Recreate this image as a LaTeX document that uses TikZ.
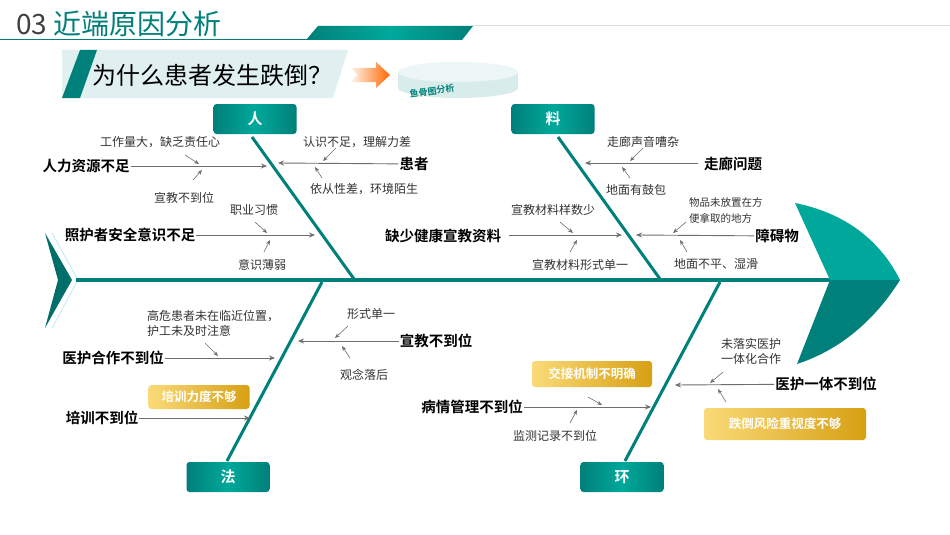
\documentclass[tikz,border=0pt]{standalone}
\usepackage{fontspec}
\setmainfont{Noto Sans CJK SC}
\newfontfamily\cjkb{Noto Sans CJK SC Bold}
\usetikzlibrary{arrows.meta}
\definecolor{teal1}{RGB}{0,128,122}
\definecolor{teal2}{RGB}{0,168,155}
\definecolor{tealdk}{RGB}{0,110,105}
\definecolor{gold1}{RGB}{250,218,120}
\definecolor{gold2}{RGB}{215,160,20}
\definecolor{arr}{RGB}{110,110,110}
\begin{document}
\begin{tikzpicture}[x=1pt,y=-1pt,
  bone/.style={teal1,line width=3pt},
  cat/.style={rounded corners=3pt,minimum width=83pt,minimum height=30pt,text=white,font=\cjkb\fontsize{15}{16}\selectfont,left color=teal1,right color=teal1,middle color=teal2,inner sep=0pt},
  big/.style={font=\cjkb\fontsize{14.5}{16}\selectfont,inner sep=1pt},
  sm/.style={font=\fontsize{12}{15}\selectfont,inner sep=1pt,text=black!80},
  gold/.style={rounded corners=3pt,left color=gold1,right color=gold2,text=white,font=\cjkb\fontsize{12.5}{14}\selectfont,inner sep=0pt},
  ar/.style={arr,line width=0.9pt,-{Stealth[length=6pt,width=5pt]}},
  sa/.style={arr,line width=0.6pt,-{Stealth[length=5pt,width=4pt]}}]
\useasboundingbox (0,0) rectangle (950,535);
\fill[white] (0,0) rectangle (950,535);
% header
\node[anchor=west,inner sep=0pt,font=\fontsize{28}{30}\selectfont] (hd) at (16,24) {\textcolor{black!75}{03} \textcolor{teal1}{近端原因分析}};
\draw[teal1,line width=1pt] (0,40) -- (320,40);
\draw[black!12,line width=1pt] (473,26) -- (950,26);
\shade[left color=teal1,right color=teal1,middle color=teal2] (318,26) -- (473,26) -- (462,40) -- (306,40) -- cycle;
% title banner
\fill[teal!12] (62,50) -- (348,50) -- (333,98) -- (62,98) -- cycle;
\fill[teal1] (80,50) -- (97,50) -- (80,98) -- (62,98) -- cycle;
\node[font=\fontsize{24}{26}\selectfont,inner sep=0pt] (ttl) at (212,75) {为什么患者发生跌倒？};
\shade[left color=orange!5,right color=orange!80!red] (350,68) -- (376,68) -- (376,62) -- (390,75) -- (376,88) -- (376,82) -- (350,82) -- (358,75) -- cycle;
\fill[teal!15] (458,88) ellipse[x radius=60,y radius=10];
\fill[teal!15] (398,72) rectangle (518,88);
\fill[teal!7] (458,72) ellipse[x radius=60,y radius=10];
\node[rotate=8,font=\cjkb\fontsize{9}{10}\selectfont,text=teal1] (yg) at (432,91) {鱼骨图分析};
% tail
\fill[tealdk] (45,233) -- (72,280) -- (45,328) -- (58,280) -- cycle;
\draw[cyan!25,line width=0.8pt] (52,233) -- (78,280) -- (52,328);
% spine
\draw[teal1,line width=4pt] (76,280) -- (832,280);
% head
\fill[teal2] (830,280) -- (795,203) .. controls (845,213) and (880,240) .. (900,280) -- cycle;
\fill[teal1] (830,280) -- (900,280) .. controls (875,320) and (840,350) .. (797,364) -- cycle;
% category boxes
\node[cat] (ren) at (255,119) {人};
\node[cat] (liao) at (553,119) {料};
\node[cat] (fa) at (228,477) {法};
\node[cat] (huan) at (622,477) {环};
\coordinate (r1) at (354,279); \coordinate (l1) at (660,279);
\coordinate (f1) at (322,282); \coordinate (h1) at (720,282);
\draw[bone] (252,137) -- (r1);
\draw[bone] (558,137) -- (l1);
\draw[bone] (f1) -- (227,461);
\draw[bone] (h1) -- (625,461);
% 人
\node[big] (a1) at (86,166) {人力资源不足};
\coordinate (a1e) at (267,166); \draw[ar] (a1) -- (a1e);
\node[sm] (a2) at (160,142) {工作量大，缺乏责任心};
\coordinate (a2e) at (199,164); \draw[sa] (185,155) -- (a2e);
\node[sm] (a3) at (184,198) {宣教不到位};
\coordinate (a3e) at (202,170); \draw[sa] (193,180) -- (a3e);
\node[big] (b1) at (414,164) {患者};
\coordinate (b1e) at (278,163); \draw[ar] (b1) -- (b1e);
\node[sm] (b2) at (357,142) {认识不足，理解力差};
\coordinate (b2e) at (323,161); \draw[sa] (336,148) -- (b2e);
\node[sm] (b3) at (364,189) {依从性差，环境陌生};
\coordinate (b3e) at (315,167); \draw[sa] (322,178) -- (b3e);
\node[big] (c1) at (130,235) {照护者安全意识不足};
\coordinate (c1e) at (315,235); \draw[ar] (c1) -- (c1e);
\node[sm] (c2) at (254,210) {职业习惯};
\coordinate (c2e) at (267,233); \draw[sa] (255,222) -- (c2e);
\node[sm] (c3) at (262,265) {意识薄弱};
\coordinate (c3e) at (270,240); \draw[sa] (264,252) -- (c3e);
% 料
\node[big] (d1) at (733,164) {走廊问题};
\coordinate (d1e) at (585,163); \draw[ar] (698,163) -- (d1e);
\node[sm] (d2) at (643,142) {走廊声音嘈杂}; 
\coordinate (d2e) at (630,161); \draw[sa] (643,148) -- (d2e);
\node[sm] (d3) at (636,190) {地面有鼓包};
\coordinate (d3e) at (622,167); \draw[sa] (630,178) -- (d3e);
\node[big] (e1) at (443,236) {缺少健康宣教资料};
\coordinate (e1e) at (622,235); \draw[ar] (509,235) -- (e1e);
\node[sm] (e2) at (553,210) {宣教材料样数少};
\coordinate (e2e) at (573,233); \draw[sa] (560,222) -- (e2e);
\node[sm] (e3) at (580,265) {宣教材料形式单一};
\coordinate (e3e) at (577,240); \draw[sa] (570,252) -- (e3e);
\node[big] (g1) at (777,236) {障碍物};
\coordinate (g1e) at (636,235); \draw[ar] (g1) -- (g1e);
\node[sm,anchor=west,align=left,font=\fontsize{10.5}{16}\selectfont] (g2) at (688,210) {物品未放置在方\\便拿取的地方};
\coordinate (g2e) at (673,233); \draw[sa] (686,222) -- (g2e);
\node[sm] (g3) at (716,264) {地面不平、湿滑};
\coordinate (g3e) at (680,240); \draw[sa] (687,252) -- (g3e);
% 法
\node[sm,anchor=west,align=left] (h2) at (146,323) {高危患者未在临近位置，\\护工未及时注意};
\node[big] (h1n) at (113,358) {医护合作不到位};
\coordinate (h1e) at (275,358); \draw[ar] (h1n) -- (h1e);
\coordinate (h2e) at (218,356); \draw[sa] (205,343) -- (h2e);
\node[sm] (i2) at (371,314) {形式单一};
\coordinate (i2e) at (335,338); \draw[sa] (348,326) -- (i2e);
\node[big] (i1) at (436,341) {宣教不到位};
\coordinate (i1e) at (298,341); \draw[ar] (i1) -- (i1e);
\node[sm] (i3) at (364,375) {观念落后};
\coordinate (i3e) at (342,346); \draw[sa] (350,358) -- (i3e);
\node[gold,minimum width=101pt,minimum height=24pt] (j2) at (199,397) {培训力度不够};
\node[big] (j1) at (102,418) {培训不到位};
\coordinate (j1e) at (250,418); \draw[ar] (j1) -- (j1e);
% 环
\node[big] (k1) at (472,407) {病情管理不到位};
\coordinate (k1e) at (651,407); \draw[ar] (k1) -- (k1e);
\node[gold,minimum width=120pt,minimum height=26pt] (k2) at (592,374) {交接机制不明确};
\coordinate (k2e) at (602,405); \draw[sa] (588,397) -- (k2e);
\node[sm] (k3) at (555,436) {监测记录不到位};
\coordinate (k3e) at (577,410); \draw[sa] (570,423) -- (k3e);
\node[big] (m1) at (826,384) {医护一体不到位};
\coordinate (m1e) at (675,385); \draw[ar] (m1) -- (m1e);
\node[sm,align=center] (m2) at (751,351) {未落实医护\\一体化合作};
\coordinate (m2e) at (710,383); \draw[sa] (723,372) -- (m2e);
\node[gold,minimum width=162pt,minimum height=32pt] (m3) at (785,424) {跌倒风险重视度不够};
\coordinate (m3e) at (718,389); \draw[sa] (726,402) -- (m3e);
\end{tikzpicture}
\end{document}
